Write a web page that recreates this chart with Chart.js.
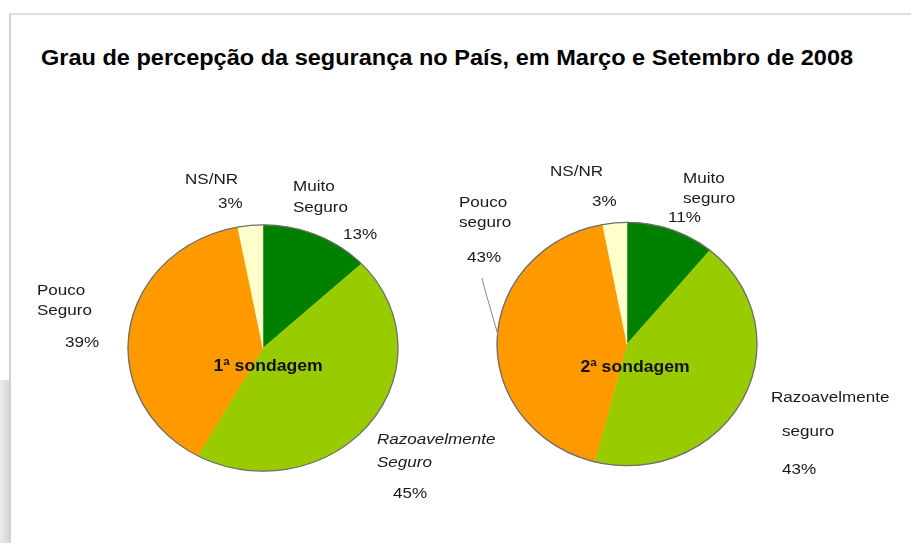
<!DOCTYPE html>
<html><head><meta charset="utf-8">
<script src="https://cdn.jsdelivr.net/npm/chart.js@4.4.1/dist/chart.umd.min.js"></script>
<style>
html,body{margin:0;padding:0;background:#fff;width:911px;height:543px;overflow:hidden;font-family:"Liberation Sans",Arial,sans-serif}
#frame{position:absolute;left:9px;top:13px;width:920px;height:540px;border-top:2px solid #dedede;border-left:2px solid #d2d2d2}
#shade{position:absolute;left:0;top:380px;width:9px;height:163px;background:linear-gradient(to right,#ececec,#d6d6d6)}
#title{position:absolute;left:41px;top:46px;font-weight:bold;font-size:21.4px;color:#000;white-space:nowrap;transform:scaleX(1.1);transform-origin:0 0}
canvas{position:absolute;left:0;top:0}
</style></head><body>
<div id="shade"></div>
<div id="frame"></div>
<div id="title">Grau de percepção da segurança no País, em Março e Setembro de 2008</div>
<canvas id="c1" width="911" height="543"></canvas>
<canvas id="c2" width="911" height="543"></canvas>
<script>
// ---- data ----
const categories1 = ["Muito Seguro", "Razoavelmente Seguro", "Pouco Seguro", "NS/NR"];
const values1 = [13, 45, 39, 3];
const categories2 = ["Muito seguro", "Razoavelmente seguro", "Pouco seguro", "NS/NR"];
const values2 = [11, 43, 43, 3];
const sliceColors = ["#008000", "#99cc00", "#ff9900", "#ffffcc"];
const centerLabels = ["1ª sondagem", "2ª sondagem"];

// ---- layout (positions relative to pie centre) ----
const layout1 = {
  padding: {left: 113, right: 498, top: 198, bottom: 45},
  radius: 135, scaleY: 0.912,
  center: [5, 19],
  labels: [
    {lines: [[30, -161], [30, -140], [80, -113]]},
    {lines: [[114, 92], [114, 115], [130, 146]], italic: true},
    {lines: [[-226, -57], [-226, -37], [-198, -5]]},
    {lines: [[-78, -168], [-45, -144]]}
  ],
  leader: null
};
const layout2 = {
  padding: {left: 487, right: 144, top: 204, bottom: 59},
  radius: 130, scaleY: 0.936,
  center: [8, 24],
  labels: [
    {lines: [[56, -165], [56, -145], [41, -126]]},
    {lines: [[144, 54], [155, 88], [155, 126]]},
    {lines: [[-168, -141], [-168, -121], [-160, -86]]},
    {lines: [[-77, -172], [-35, -142]]}
  ],
  leader: {index: 2, from: [-145, -66], to: [-129, -9]}
};

const STRETCH = 1.1;
function drawText(ctx, text, x, y, font) {
  ctx.save();
  ctx.font = font;
  ctx.textBaseline = 'middle';
  ctx.textAlign = 'left';
  ctx.translate(x, y);
  ctx.scale(STRETCH, 1);
  ctx.fillText(text, 0, 0);
  ctx.restore();
}

const piePlugin = {
  id: 'pieDecor',
  beforeDatasetsDraw(chart, args, opts) {
    const arc = chart.getDatasetMeta(0).data[0];
    const ctx = chart.ctx;
    ctx.save();
    ctx.translate(arc.x, arc.y);
    ctx.scale(1, opts.scaleY);
    ctx.translate(-arc.x, -arc.y);
  },
  afterDatasetsDraw(chart, args, opts) {
    const arc = chart.getDatasetMeta(0).data[0];
    const ctx = chart.ctx;
    ctx.beginPath();
    ctx.arc(arc.x, arc.y, arc.outerRadius, 0, Math.PI * 2);
    ctx.lineWidth = 1.3;
    ctx.strokeStyle = '#6e6e6e';
    ctx.stroke();
    ctx.restore();
  },
  afterDraw(chart, args, opts) {
    const arc = chart.getDatasetMeta(0).data[0];
    const cx = arc.x, cy = arc.y;
    const ctx = chart.ctx;
    const cats = chart.data.labels;
    const vals = chart.data.datasets[0].data;
    ctx.fillStyle = '#1a1a1a';
    opts.layout.labels.forEach((spec, i) => {
      const words = cats[i].split(' ');
      const lines = words.concat([vals[i] + '%']);
      lines.forEach((t, k) => {
        const italic = spec.italic && k < words.length;
        const font = (italic ? 'italic ' : '') + '15.5px "Liberation Sans", Arial, sans-serif';
        const p = spec.lines[k];
        drawText(ctx, t, cx + p[0], cy + p[1], font);
      });
    });
    const L = opts.layout.leader;
    if (L) {
      ctx.save();
      ctx.strokeStyle = '#8a8a8a';
      ctx.lineWidth = 1;
      ctx.beginPath();
      ctx.moveTo(cx + L.from[0], cy + L.from[1]);
      ctx.lineTo(cx + L.from[0] + 3, cy + L.from[1] + 12);
      ctx.lineTo(cx + L.to[0], cy + L.to[1]);
      ctx.stroke();
      ctx.restore();
    }
    // centre label
    ctx.save();
    ctx.font = 'bold 16px "Liberation Sans", Arial, sans-serif';
    ctx.fillStyle = '#111';
    ctx.textAlign = 'center';
    ctx.textBaseline = 'middle';
    ctx.translate(cx + opts.layout.center[0], cy + opts.layout.center[1]);
    ctx.scale(STRETCH, 1);
    ctx.fillText(opts.text, 0, 0);
    ctx.restore();
  }
};

function makePie(id, cats, vals, lay, text) {
  return new Chart(document.getElementById(id), {
    type: 'pie',
    data: {
      labels: cats,
      datasets: [{
        data: vals,
        backgroundColor: sliceColors,
        borderColor: sliceColors,
        borderWidth: 0.5,
        hoverOffset: 0,
        offset: 0,
        radius: lay.radius
      }]
    },
    options: {
      responsive: false,
      animation: false,
      events: [],
      layout: {padding: lay.padding},
      plugins: {
        legend: {display: false},
        tooltip: {enabled: false},
        title: {display: false},
        pieDecor: {scaleY: lay.scaleY, layout: lay, text: text}
      }
    },
    plugins: [piePlugin]
  });
}

makePie('c1', categories1, values1, layout1, centerLabels[0]);
makePie('c2', categories2, values2, layout2, centerLabels[1]);
</script>
</body></html>
